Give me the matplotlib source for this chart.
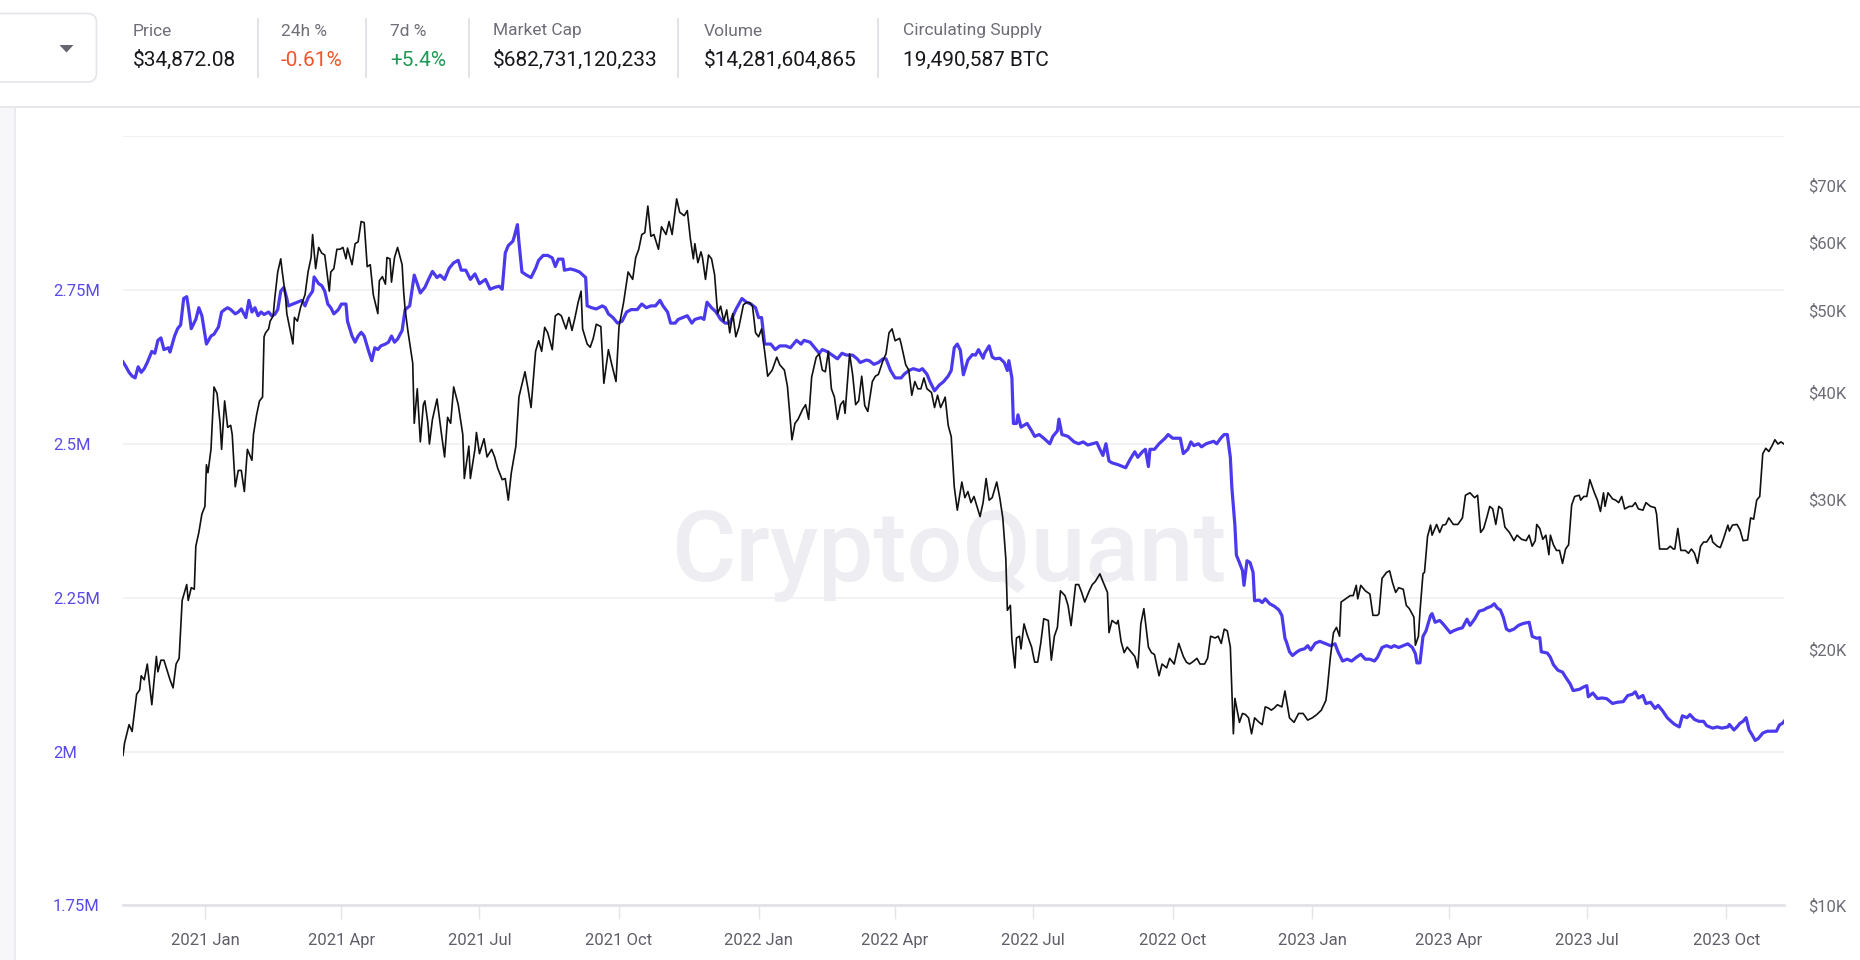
import numpy as np
import pandas as pd
import matplotlib
matplotlib.use("Agg")
import matplotlib.pyplot as plt
import matplotlib.dates as mdates
from matplotlib.patches import FancyBboxPatch, Rectangle, Polygon
from matplotlib.ticker import NullLocator, NullFormatter, FixedLocator, FixedFormatter

# ---------------- DATA ----------------
header_labels = ["Price", "24h %", "7d %", "Market Cap", "Volume", "Circulating Supply"]
header_values = ["$34,872.08", "-0.61%", "+5.4%", "$682,731,120,233", "$14,281,604,865", "19,490,587 BTC"]
header_value_colors = ["#17171c", "#f0552a", "#1f9a57", "#17171c", "#17171c", "#17171c"]

base_date = "2021-01-01"

# BTC price (USD thousands), day offsets from 2021-01-01
price_day = [
    -54, -53, -50, -48, -45, -43, -42, -40, -38, -35, -32, -31, -29, -27, -23, -21, -19, -17, -15, -12,
    -11, -9, -7, -6, -4, -2, 0, 1, 2, 4, 6, 8, 10, 11, 13, 15, 17, 18, 20, 22,
    24, 26, 28, 31, 32, 34, 36, 38, 39, 40, 42, 43, 45, 46, 48, 50, 51, 53, 54, 56,
    58, 59, 61, 63, 66, 68, 70, 71, 73, 75, 77, 79, 82, 83, 85, 87, 89, 91, 93, 94,
    97, 99, 101, 103, 105, 107, 109, 111, 114, 115, 117, 119, 120, 122, 123, 125, 127, 130, 131, 132,
    134, 137, 138, 140, 141, 142, 144, 145, 147, 148, 150, 153, 156, 158, 160, 162, 164, 167, 170, 171,
    174, 175, 178, 179, 181, 184, 186, 189, 191, 193, 196, 198, 200, 202, 205, 207, 208, 211, 213, 215,
    218, 220, 222, 224, 226, 229, 231, 233, 235, 238, 240, 242, 244, 246, 248, 249, 252, 254, 256, 258,
    261, 263, 266, 268, 271, 273, 276, 279, 282, 284, 286, 288, 290, 292, 294, 296, 299, 301, 304, 306,
    308, 311, 313, 316, 318, 320, 322, 323, 325, 327, 328, 330, 332, 334, 336, 338, 340, 342, 344, 346,
    348, 350, 352, 355, 357, 359, 361, 363, 365, 367, 369, 371, 374, 377, 379, 382, 384, 387, 389, 391,
    394, 396, 398, 400, 403, 405, 407, 409, 411, 413, 415, 417, 419, 421, 422, 425, 427, 429, 431, 433,
    435, 437, 440, 442, 444, 447, 449, 451, 453, 455, 458, 459, 462, 464, 466, 468, 470, 472, 474, 476,
    479, 481, 483, 485, 487, 488, 490, 492, 494, 496, 499, 501, 503, 505, 507, 509, 511, 513, 515, 517,
    519, 522, 524, 526, 528, 529, 531, 532, 534, 535, 537, 538, 540, 542, 545, 547, 549, 551, 553, 556,
    558, 560, 562, 564, 567, 569, 571, 574, 576, 578, 580, 583, 585, 587, 590, 592, 595, 596, 598, 601,
    602, 604, 606, 608, 611, 613, 615, 617, 619, 622, 624, 626, 629, 631, 634, 636, 639, 642, 645, 647,
    649, 651, 654, 656, 659, 661, 663, 666, 668, 670, 672, 674, 676, 678, 679, 682, 684, 686, 688, 690,
    692, 695, 697, 699, 701, 703, 705, 707, 710, 712, 715, 718, 721, 724, 727, 730, 733, 736, 739, 740,
    742, 744, 746, 748, 749, 752, 755, 757, 759, 760, 762, 765, 768, 770, 773, 774, 776, 779, 781, 783,
    785, 787, 790, 792, 794, 797, 798, 800, 801, 803, 804, 806, 808, 809, 812, 814, 816, 818, 820, 823,
    826, 829, 831, 834, 837, 839, 841, 843, 845, 847, 849, 851, 853, 855, 857, 860, 863, 865, 868, 871,
    873, 875, 877, 878, 880, 882, 884, 886, 887, 889, 891, 893, 895, 897, 899, 901, 903, 906, 907, 909,
    911, 913, 916, 918, 920, 922, 923, 925, 928, 930, 932, 934, 936, 939, 941, 943, 945, 948, 950, 953,
    956, 957, 959, 962, 964, 966, 968, 969, 971, 973, 976, 978, 980, 982, 984, 986, 988, 990, 993, 994,
    997, 999, 1001, 1004, 1005, 1007, 1010, 1012, 1014, 1017, 1019, 1021, 1023, 1025, 1027, 1029, 1031, 1033, 1035, 1037,
    1039, 1041,
]
price_k = [
    15.0, 15.5, 16.3, 16.0, 17.7, 17.9, 18.6, 18.4, 19.2, 17.2, 19.6, 18.8, 19.4, 19.4, 18.4, 18.0, 19.2, 19.5, 22.8, 23.8,
    22.8, 23.6, 23.5, 26.4, 27.4, 28.8, 29.4, 32.9, 32.2, 34.3, 40.6, 39.9, 36.8, 34.3, 39.1, 36.4, 36.6, 35.7, 31.0, 32.4,
    32.4, 30.6, 34.3, 33.3, 35.7, 37.6, 39.1, 39.5, 46.5, 47.0, 47.5, 48.5, 49.2, 51.5, 55.4, 57.4, 55.4, 52.1, 49.5, 47.5,
    45.6, 49.0, 48.5, 50.3, 52.1, 55.4, 57.6, 61.3, 55.9, 59.2, 58.3, 58.0, 52.6, 55.4, 55.9, 58.9, 58.9, 59.2, 57.4, 59.1,
    56.5, 59.8, 60.1, 63.5, 63.3, 56.2, 56.5, 52.1, 49.5, 54.1, 54.7, 53.6, 57.6, 57.4, 53.9, 57.6, 59.2, 56.5, 52.6, 50.0,
    47.0, 43.3, 36.8, 40.4, 37.6, 35.0, 38.7, 39.1, 36.8, 34.8, 37.2, 39.3, 35.7, 33.6, 37.4, 36.8, 40.6, 38.7, 35.7, 31.7,
    34.6, 31.7, 34.3, 35.9, 33.9, 35.3, 33.6, 34.3, 33.6, 32.6, 31.6, 31.7, 29.9, 32.2, 34.6, 39.5, 40.2, 42.3, 40.4, 38.4,
    44.7, 46.0, 44.7, 47.7, 47.0, 44.9, 49.2, 49.5, 49.2, 47.5, 49.0, 47.3, 49.0, 51.0, 52.6, 47.5, 45.6, 45.2, 46.3, 48.1,
    47.8, 41.0, 44.9, 43.3, 41.2, 47.8, 51.0, 55.4, 54.3, 57.6, 58.9, 61.3, 61.6, 66.2, 61.0, 61.3, 58.9, 62.6, 61.3, 63.5,
    61.3, 67.5, 65.1, 64.5, 65.4, 60.7, 57.4, 59.8, 56.8, 58.5, 57.6, 54.3, 58.0, 57.4, 55.0, 49.5, 50.5, 48.5, 50.0, 47.0,
    49.5, 46.5, 47.7, 50.7, 51.0, 51.0, 50.5, 47.0, 46.5, 47.5, 44.7, 41.8, 42.5, 44.0, 43.1, 42.5, 40.7, 35.2, 36.8, 37.2,
    38.2, 38.7, 37.2, 41.7, 44.0, 44.4, 42.5, 42.3, 44.7, 40.4, 39.5, 37.2, 38.7, 39.1, 37.8, 44.4, 42.0, 38.7, 39.1, 41.8,
    38.6, 38.0, 41.2, 41.8, 42.0, 43.6, 44.4, 47.0, 47.5, 46.0, 46.3, 45.6, 43.1, 42.5, 39.7, 41.2, 40.4, 40.4, 41.6, 40.4,
    40.0, 38.4, 39.7, 38.4, 39.1, 39.5, 36.6, 35.5, 31.0, 29.1, 31.4, 30.1, 30.6, 29.7, 30.2, 29.4, 28.6, 29.7, 31.7, 29.9,
    30.1, 31.4, 30.1, 28.5, 25.5, 22.2, 22.5, 20.5, 19.0, 20.6, 20.7, 20.0, 21.4, 20.8, 20.1, 19.3, 19.3, 20.3, 21.7, 21.6,
    19.4, 20.7, 21.2, 23.4, 23.1, 22.5, 21.3, 23.8, 23.8, 23.3, 22.7, 23.4, 23.8, 24.0, 24.5, 24.0, 23.3, 20.9, 21.6, 21.4,
    21.6, 20.4, 19.8, 20.1, 19.8, 19.6, 19.0, 21.4, 22.3, 20.1, 19.8, 19.7, 18.6, 19.2, 19.0, 19.5, 19.2, 20.3, 19.6, 19.3,
    19.2, 19.3, 19.5, 19.2, 19.2, 19.5, 20.7, 20.6, 20.7, 20.3, 21.1, 21.0, 20.1, 15.9, 17.5, 16.4, 16.8, 16.75, 16.6, 15.9,
    16.6, 16.4, 16.3, 17.1, 17.05, 16.95, 17.05, 17.2, 17.1, 17.85, 16.6, 16.4, 16.8, 16.8, 16.5, 16.6, 16.75, 16.95, 17.4, 18.0,
    19.6, 20.9, 21.2, 20.7, 22.7, 22.9, 23.1, 23.1, 23.75, 22.9, 23.75, 23.4, 23.2, 21.9, 21.9, 22.0, 24.2, 24.6, 24.7, 23.9,
    23.3, 23.6, 23.5, 22.5, 22.3, 21.8, 20.2, 20.7, 22.1, 24.5, 24.6, 27.1, 27.95, 27.2, 28.0, 27.4, 27.95, 28.0, 28.5, 28.0,
    28.0, 28.5, 30.3, 30.5, 30.1, 30.3, 27.4, 27.7, 28.5, 29.4, 29.2, 28.0, 29.4, 29.2, 27.8, 27.4, 26.8, 27.2, 26.9, 26.8,
    27.2, 26.4, 26.8, 28.0, 27.7, 26.9, 27.2, 25.8, 27.2, 26.5, 26.1, 26.1, 25.2, 26.2, 26.5, 29.5, 30.2, 30.3, 29.9, 30.2,
    30.2, 31.6, 30.5, 29.9, 29.0, 30.5, 29.4, 30.5, 30.0, 29.9, 29.7, 30.2, 29.2, 29.4, 29.4, 29.7, 29.2, 29.1, 29.7, 29.4,
    29.3, 28.8, 26.2, 26.2, 26.2, 26.4, 26.2, 26.2, 27.7, 26.1, 26.1, 25.9, 26.2, 25.9, 25.2, 26.4, 26.7, 26.7, 27.2, 26.7,
    26.4, 26.3, 26.9, 27.95, 27.5, 27.95, 28.0, 27.6, 26.8, 26.85, 28.5, 28.4, 29.9, 30.2, 33.9, 34.4, 34.1, 34.6, 35.2, 34.8,
    35.0, 34.8,
]

# Exchange reserve (million BTC), day offsets from 2021-01-01
reserve_day = [
    -54, -52, -50, -48, -46, -44, -42, -40, -38, -35, -33, -31, -29, -27, -24, -23, -20, -18, -16, -14,
    -12, -11, -9, -6, -4, -2, -1, 1, 4, 6, 9, 11, 13, 15, 17, 20, 22, 24, 27, 29,
    31, 33, 35, 37, 39, 42, 44, 46, 48, 50, 52, 54, 55, 58, 61, 64, 66, 68, 71, 72,
    75, 77, 79, 81, 83, 85, 88, 90, 93, 94, 97, 99, 101, 103, 105, 108, 110, 112, 114, 116,
    119, 121, 123, 125, 127, 130, 132, 135, 137, 138, 140, 142, 145, 148, 150, 153, 155, 158, 161, 164,
    167, 169, 172, 175, 178, 181, 185, 188, 191, 194, 196, 198, 200, 203, 204, 206, 207, 209, 212, 215,
    218, 220, 223, 226, 229, 231, 233, 236, 237, 241, 244, 247, 251, 252, 255, 258, 262, 264, 266, 269,
    272, 275, 278, 281, 285, 288, 291, 294, 297, 300, 302, 305, 307, 310, 312, 315, 318, 321, 323, 327,
    329, 331, 334, 337, 340, 343, 346, 350, 354, 357, 360, 363, 365, 367, 369, 373, 376, 379, 383, 386,
    390, 393, 395, 399, 401, 405, 407, 410, 413, 417, 420, 423, 427, 430, 432, 436, 438, 441, 444, 447,
    449, 452, 455, 459, 461, 464, 467, 471, 473, 476, 478, 481, 484, 487, 490, 492, 494, 496, 498, 500,
    503, 506, 508, 510, 513, 514, 517, 519, 521, 524, 527, 529, 530, 532, 533, 535, 536, 538, 540, 542,
    545, 547, 550, 553, 557, 559, 562, 563, 565, 569, 573, 576, 579, 582, 585, 588, 590, 592, 594, 596,
    598, 602, 605, 607, 610, 613, 615, 618, 620, 622, 623, 626, 629, 633, 635, 638, 643, 645, 648, 650,
    652, 655, 657, 660, 665, 667, 670, 672, 674, 676, 677, 679, 680, 682, 684, 685, 687, 689, 691, 692,
    695, 697, 699, 702, 705, 708, 710, 712, 713, 715, 717, 720, 722, 725, 727, 729, 732, 735, 738, 742,
    745, 747, 750, 753, 756, 759, 762, 765, 768, 771, 773, 776, 779, 782, 784, 787, 790, 793, 796, 798,
    799, 801, 803, 805, 808, 809, 811, 814, 816, 819, 821, 823, 826, 829, 832, 834, 837, 840, 843, 845,
    848, 850, 852, 854, 856, 858, 860, 863, 866, 869, 873, 875, 878, 880, 881, 885, 887, 889, 892, 895,
    897, 900, 902, 906, 909, 911, 912, 915, 918, 921, 924, 928, 931, 935, 938, 941, 943, 945, 948, 950,
    953, 956, 958, 961, 964, 967, 969, 972, 974, 977, 979, 982, 985, 988, 990, 994, 997, 1000, 1004, 1005,
    1008, 1010, 1012, 1014, 1016, 1018, 1020, 1022, 1024, 1027, 1030, 1033, 1036, 1038, 1040, 1041,
]
reserve_m = [
    2.633, 2.625, 2.616, 2.610, 2.607, 2.625, 2.616, 2.622, 2.632, 2.650, 2.647, 2.668, 2.672, 2.653, 2.656, 2.649, 2.675, 2.687, 2.693, 2.736,
    2.739, 2.724, 2.687, 2.702, 2.721, 2.708, 2.693, 2.662, 2.675, 2.678, 2.690, 2.714, 2.718, 2.721, 2.718, 2.711, 2.714, 2.719, 2.705, 2.733,
    2.714, 2.721, 2.708, 2.714, 2.710, 2.714, 2.708, 2.710, 2.718, 2.748, 2.754, 2.736, 2.724, 2.727, 2.730, 2.733, 2.724, 2.737, 2.748, 2.771,
    2.760, 2.757, 2.748, 2.727, 2.721, 2.711, 2.718, 2.727, 2.727, 2.699, 2.675, 2.665, 2.675, 2.681, 2.675, 2.650, 2.635, 2.656, 2.653, 2.659,
    2.662, 2.665, 2.675, 2.665, 2.670, 2.684, 2.718, 2.724, 2.757, 2.774, 2.760, 2.745, 2.754, 2.770, 2.780, 2.770, 2.774, 2.767, 2.785, 2.794,
    2.798, 2.782, 2.782, 2.767, 2.776, 2.760, 2.767, 2.751, 2.754, 2.756, 2.751, 2.810, 2.822, 2.829, 2.837, 2.856, 2.828, 2.779, 2.774, 2.770,
    2.785, 2.798, 2.806, 2.806, 2.802, 2.788, 2.800, 2.800, 2.782, 2.784, 2.782, 2.779, 2.770, 2.724, 2.721, 2.719, 2.724, 2.721, 2.711, 2.705,
    2.696, 2.699, 2.714, 2.718, 2.718, 2.727, 2.721, 2.724, 2.724, 2.733, 2.724, 2.714, 2.696, 2.696, 2.702, 2.705, 2.708, 2.696, 2.702, 2.705,
    2.702, 2.730, 2.721, 2.714, 2.702, 2.696, 2.696, 2.718, 2.736, 2.730, 2.727, 2.721, 2.705, 2.705, 2.662, 2.662, 2.653, 2.659, 2.659, 2.656,
    2.668, 2.662, 2.668, 2.665, 2.659, 2.647, 2.653, 2.650, 2.645, 2.638, 2.647, 2.644, 2.644, 2.638, 2.632, 2.636, 2.635, 2.629, 2.632, 2.638,
    2.638, 2.619, 2.607, 2.607, 2.613, 2.619, 2.622, 2.619, 2.622, 2.613, 2.601, 2.586, 2.595, 2.601, 2.610, 2.619, 2.656, 2.662, 2.652, 2.612,
    2.636, 2.645, 2.644, 2.653, 2.639, 2.647, 2.659, 2.641, 2.638, 2.639, 2.632, 2.619, 2.635, 2.607, 2.533, 2.533, 2.547, 2.527, 2.530, 2.533,
    2.521, 2.512, 2.515, 2.509, 2.500, 2.512, 2.521, 2.540, 2.515, 2.512, 2.503, 2.500, 2.503, 2.498, 2.500, 2.502, 2.491, 2.481, 2.500, 2.472,
    2.469, 2.466, 2.463, 2.461, 2.475, 2.487, 2.478, 2.487, 2.491, 2.463, 2.491, 2.491, 2.500, 2.509, 2.515, 2.509, 2.509, 2.484, 2.491, 2.503,
    2.497, 2.500, 2.495, 2.500, 2.504, 2.500, 2.510, 2.515, 2.515, 2.478, 2.429, 2.368, 2.319, 2.307, 2.294, 2.270, 2.310, 2.307, 2.291, 2.245,
    2.246, 2.242, 2.248, 2.240, 2.236, 2.230, 2.221, 2.184, 2.178, 2.162, 2.156, 2.162, 2.165, 2.167, 2.172, 2.165, 2.176, 2.179, 2.176, 2.172,
    2.175, 2.162, 2.147, 2.150, 2.147, 2.153, 2.158, 2.150, 2.150, 2.147, 2.153, 2.169, 2.172, 2.169, 2.172, 2.169, 2.172, 2.175, 2.169, 2.159,
    2.144, 2.144, 2.187, 2.196, 2.221, 2.224, 2.210, 2.213, 2.208, 2.199, 2.193, 2.196, 2.199, 2.201, 2.215, 2.205, 2.215, 2.228, 2.230, 2.233,
    2.236, 2.240, 2.233, 2.230, 2.218, 2.199, 2.196, 2.199, 2.205, 2.208, 2.210, 2.187, 2.184, 2.185, 2.162, 2.160, 2.153, 2.141, 2.132, 2.129,
    2.121, 2.110, 2.099, 2.101, 2.105, 2.107, 2.089, 2.095, 2.086, 2.087, 2.086, 2.078, 2.080, 2.081, 2.091, 2.093, 2.097, 2.087, 2.091, 2.078,
    2.080, 2.070, 2.075, 2.066, 2.055, 2.048, 2.044, 2.040, 2.058, 2.055, 2.060, 2.052, 2.049, 2.049, 2.042, 2.038, 2.040, 2.038, 2.040, 2.044,
    2.035, 2.040, 2.046, 2.049, 2.055, 2.035, 2.027, 2.018, 2.021, 2.030, 2.033, 2.033, 2.033, 2.043, 2.046, 2.049,
]

x_tick_dates = ["2021-01-01", "2021-04-01", "2021-07-01", "2021-10-01", "2022-01-01", "2022-04-01",
                "2022-07-01", "2022-10-01", "2023-01-01", "2023-04-01", "2023-07-01", "2023-10-01"]
x_tick_labels = ["2021 Jan", "2021 Apr", "2021 Jul", "2021 Oct", "2022 Jan", "2022 Apr",
                 "2022 Jul", "2022 Oct", "2023 Jan", "2023 Apr", "2023 Jul", "2023 Oct"]
left_ticks = [1.75, 2.0, 2.25, 2.5, 2.75, 3.0]
left_tick_labels = ["1.75M", "2M", "2.25M", "2.5M", "2.75M", ""]
right_ticks = [10000, 20000, 30000, 40000, 50000, 60000, 70000]
right_tick_labels = ["$10K", "$20K", "$30K", "$40K", "$50K", "$60K", "$70K"]

# ---------------- FIGURE ----------------
plt.rcParams["font.family"] = ["Roboto", "DejaVu Sans"]
W, H = 1860, 960
fig = plt.figure(figsize=(W / 100, H / 100), dpi=100)
fig.patch.set_facecolor("white")

bg = fig.add_axes([0, 0, 1, 1])
bg.set_xlim(0, W)
bg.set_ylim(H, 0)
bg.axis("off")

# header
box = FancyBboxPatch((-20, 13.5), 116.5, 68.5, boxstyle="round,pad=0,rounding_size=9",
                     fc="white", ec="#e4e4ea", lw=1.2)
bg.add_patch(box)
bg.add_patch(Polygon([[59.5, 45], [73.5, 45], [66.5, 52.5]], closed=True, fc="#66666f", ec="none"))

label_x = [133, 281, 390, 493, 704, 903]
for lx, lab, val, col in zip(label_x, header_labels, header_values, header_value_colors):
    bg.text(lx, 31, lab, fontsize=12.5, color="#6e6e78", va="center", ha="left")
    bg.text(lx, 60, val, fontsize=15, color=col, va="center", ha="left")
for sx in [257.5, 366, 469, 678, 877.5]:
    bg.plot([sx, sx], [19, 77], color="#dedee4", lw=1.2)

bg.plot([0, W], [107, 107], color="#e6e6eb", lw=1.4)
bg.add_patch(Rectangle((0, 107.5), 14.5, H - 107.5, fc="#f7f7fa", ec="none"))
bg.plot([14.7, 14.7], [107.5, H], color="#e8e8ee", lw=1.2)

# watermark
bg.text(949, 581, "CryptoQuant", fontsize=71, color="#eeeef2", ha="center", va="baseline",
        fontweight="medium", zorder=0)

# main axes
x0, x1, ytop, ybot = 123, 1784, 136, 905.4
ax = fig.add_axes([x0 / W, 1 - ybot / H, (x1 - x0) / W, (ybot - ytop) / H])
ax.set_facecolor("none")

base = pd.Timestamp(base_date)
r_dates = base + pd.to_timedelta(reserve_day, unit="D")
p_dates = base + pd.to_timedelta(price_day, unit="D")

ax.plot(r_dates, reserve_m, color="#4b3aed", lw=2.3, solid_joinstyle="round", zorder=3)
ax.set_ylim(1.75, 3.0)
ax.set_xlim(min(r_dates[0], p_dates[0]), max(r_dates[-1], p_dates[-1]))

ax.yaxis.set_major_locator(FixedLocator(left_ticks))
ax.yaxis.set_major_formatter(FixedFormatter(left_tick_labels))
ax.tick_params(axis="y", length=0, pad=50.4, labelsize=12, labelcolor="#5a4be8")
for t in ax.get_yticklabels():
    t.set_horizontalalignment("left")
ax.yaxis.grid(True, color="#f0f0f4", lw=1.2)
ax.set_axisbelow(True)

ax.set_xticks(pd.to_datetime(x_tick_dates))
ax.set_xticklabels(x_tick_labels)
ax.tick_params(axis="x", length=10, width=1, color="#e4e4ea", pad=10, labelsize=12, labelcolor="#5f5f69")

for s in ["top", "left", "right"]:
    ax.spines[s].set_visible(False)
ax.spines["bottom"].set_color("#e2e2e8")
ax.spines["bottom"].set_linewidth(2)

ax2 = ax.twinx()
ax2.plot(p_dates, np.array(price_k) * 1000, color="#111111", lw=1.2, zorder=4)
ax2.set_yscale("log")
ax2.set_ylim(10000, 80000)
ax2.yaxis.set_major_locator(FixedLocator(right_ticks))
ax2.yaxis.set_major_formatter(FixedFormatter(right_tick_labels))
ax2.yaxis.set_minor_locator(NullLocator())
ax2.yaxis.set_minor_formatter(NullFormatter())
ax2.tick_params(axis="y", length=0, pad=17.3, labelsize=12, labelcolor="#6c6c76")
for s in ["top", "left", "right", "bottom"]:
    ax2.spines[s].set_visible(False)

fig.savefig("out.png", dpi=100)
